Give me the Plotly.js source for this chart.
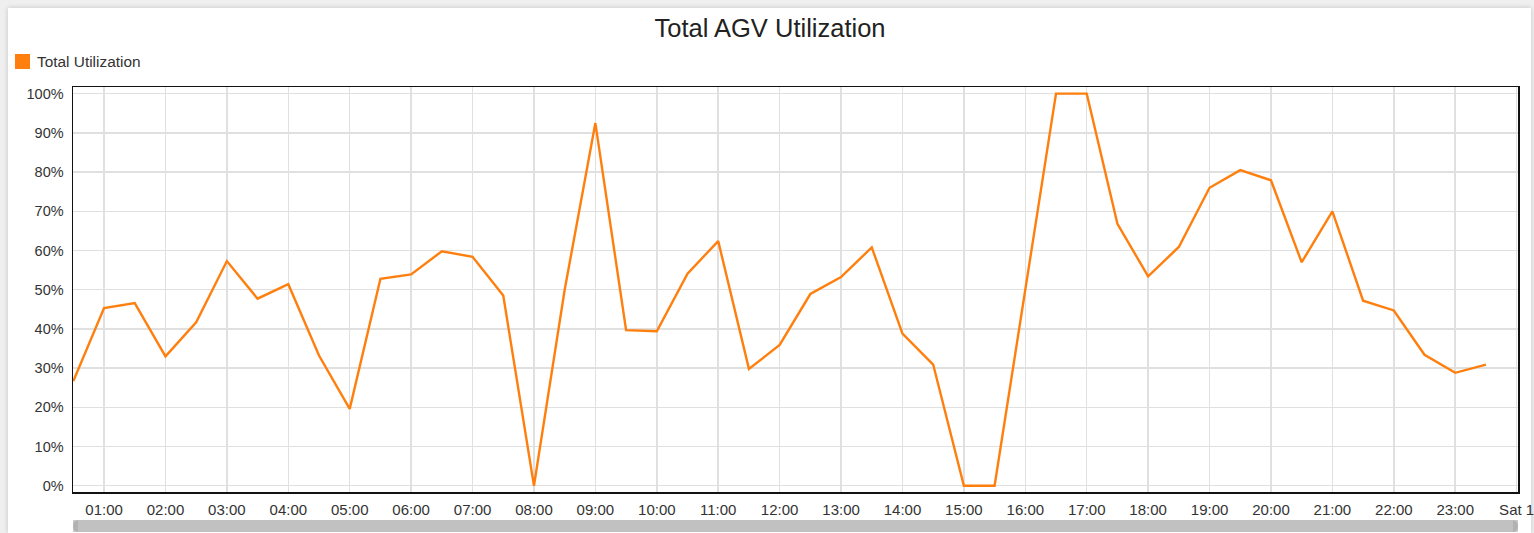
<!DOCTYPE html>
<html>
<head>
<meta charset="utf-8">
<script src="https://cdn.plot.ly/plotly-3.0.1.min.js"></script>
<style>
  html, body { margin: 0; padding: 0; background: #efefef; }
  #frame { position: absolute; left: 8px; top: 8px; width: 1523px; height: 525px; background: #ffffff; box-shadow: 0 0 5px rgba(0,0,0,0.18); }
  #chart { position: absolute; left: 0; top: 0; width: 1534px; height: 533px; }
</style>
</head>
<body>
<div id="frame"></div>
<div id="chart"></div>
<script>
// ---- data ----
const dayPrefix = "2023-06-30 ";
const nextDay = "2023-07-01 ";
const times = ["00:30","01:00","01:30","02:00","02:30","03:00","03:30","04:00","04:30","05:00",
  "05:30","06:00","06:30","07:00","07:30","08:00","08:30","09:00","09:30","10:00",
  "10:30","11:00","11:30","12:00","12:30","13:00","13:30","14:00","14:30","15:00",
  "15:30","16:00","16:30","17:00","17:30","18:00","18:30","19:00","19:30","20:00",
  "20:30","21:00","21:30","22:00","22:30","23:00","23:30"];
const totalUtilization = [26.7,45.3,46.6,33.0,41.7,57.3,47.7,51.4,33.2,19.6,
  52.8,53.9,59.8,58.4,48.5,0.0,50.0,92.5,39.7,39.4,
  54.1,62.4,29.8,35.9,48.9,53.2,60.8,38.8,30.9,0.0,
  0.0,50.0,100.0,100.0,66.8,53.4,60.9,76.0,80.5,77.9,
  57.0,70.0,47.2,44.7,33.4,28.8,30.9];
const tickTimes = ["01:00","02:00","03:00","04:00","05:00","06:00","07:00","08:00","09:00","10:00",
  "11:00","12:00","13:00","14:00","15:00","16:00","17:00","18:00","19:00","20:00",
  "21:00","22:00","23:00"];
const tickLabels = ["01:00","02:00","03:00","04:00","05:00","06:00","07:00","08:00","09:00","10:00",
  "11:00","12:00","13:00","14:00","15:00","16:00","17:00","18:00","19:00","20:00",
  "21:00","22:00","23:00","Sat 1"];
const seriesName = "Total Utilization";
const chartTitle = "Total AGV Utilization";

// ---- build ----
const xs = times.map(t => dayPrefix + t);
const tickvals = tickTimes.map(t => dayPrefix + t).concat([nextDay + "00:00"]);
const orange = "#ff7f0e";
const fontFam = "Liberation Sans, Arial, sans-serif";

const trace = {
  x: xs, y: totalUtilization, type: "scatter", mode: "lines",
  name: seriesName, showlegend: false,
  line: { color: orange, width: 2.4 },
  hoverinfo: "x+y"
};

// scrollbar geometry in paper coords (decoration)
const W = 1445, H = 405;
const sy0 = -(520 - 492) / H, sy1 = -(532 - 492) / H, sym = (sy0 + sy1) / 2;
const r = 6 / W;
const scrollPath = `M ${r},${sy0} L ${1 - r},${sy0} Q 1,${sy0} 1,${sym} Q 1,${sy1} ${1 - r},${sy1} L ${r},${sy1} Q 0,${sy1} 0,${sym} Q 0,${sy0} ${r},${sy0} Z`;
const capW = 5 / W;

const layout = {
  width: 1534, height: 533,
  margin: { l: 73, r: 16, t: 87, b: 41, pad: 0 },
  paper_bgcolor: "rgba(0,0,0,0)",
  plot_bgcolor: "#ffffff",
  font: { family: fontFam, color: "#333333" },
  title: {
    text: chartTitle,
    font: { family: fontFam, size: 25.5, color: "#222222" },
    xref: "container", x: 770 / 1534, xanchor: "center",
    yref: "container", y: 1 - 28 / 533, yanchor: "middle"
  },
  showlegend: false,
  xaxis: {
    type: "date",
    range: [dayPrefix + "00:29:40", nextDay + "00:01:20"],
    tickmode: "array", tickvals: tickvals, ticktext: tickLabels,
    ticklabeloverflow: "allow",
    showgrid: true, gridcolor: "#e0e0e0", gridwidth: 1.5,
    showline: true, linecolor: "#111111", linewidth: 1.5, mirror: true,
    ticks: "outside", ticklen: 3, tickcolor: "rgba(0,0,0,0)",
    tickfont: { size: 15, color: "#333333", family: fontFam },
    zeroline: false, fixedrange: true
  },
  yaxis: {
    range: [-1.6, 101.7],
    tickmode: "linear", tick0: 0, dtick: 10, ticksuffix: "%",
    showgrid: true, gridcolor: "#e0e0e0", gridwidth: 1.5,
    showline: true, linecolor: "#111111", linewidth: 1.5, mirror: true,
    ticks: "outside", ticklen: 5, tickcolor: "rgba(0,0,0,0)",
    tickfont: { size: 14.5, color: "#333333", family: fontFam },
    zeroline: false, fixedrange: true
  },
  shapes: [
    // legend swatch
    { type: "rect", xref: "paper", yref: "paper",
      x0: (15 - 73) / W, x1: (30 - 73) / W, y0: (492 - 69) / H, y1: (492 - 54) / H,
      fillcolor: orange, line: { width: 0 } },
    // scrollbar thumb
    { type: "path", xref: "paper", yref: "paper", path: scrollPath,
      fillcolor: "#c1c1c1", line: { width: 0 } },
    { type: "rect", xref: "paper", yref: "paper",
      x0: 0, x1: capW, y0: sy1, y1: sy0, fillcolor: "#a9a9a9", line: { width: 0 }, opacity: 0.6 },
    { type: "rect", xref: "paper", yref: "paper",
      x0: 1 - capW, x1: 1, y0: sy1, y1: sy0, fillcolor: "#a9a9a9", line: { width: 0 }, opacity: 0.6 }
  ],
  annotations: [
    { text: seriesName, xref: "paper", yref: "paper",
      x: (35 - 73) / W, y: (492 - 61.5) / H, xanchor: "left", yanchor: "middle",
      showarrow: false, font: { size: 15.4, color: "#333333", family: fontFam } }
  ]
};

Plotly.newPlot("chart", [trace], layout, { displayModeBar: false, staticPlot: true });
</script>
</body>
</html>
